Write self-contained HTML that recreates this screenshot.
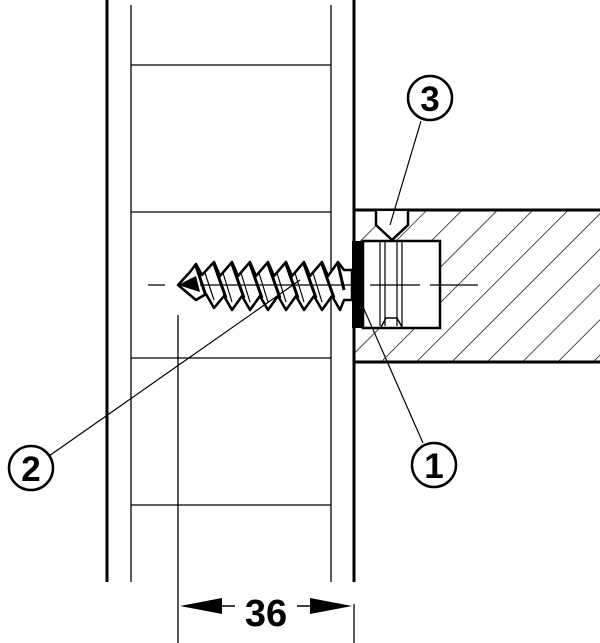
<!DOCTYPE html>
<html><head><style>body{margin:0;background:#fff}svg{display:block}</style></head><body>
<svg width="600" height="643" viewBox="0 0 600 643" xmlns="http://www.w3.org/2000/svg" font-family="Liberation Sans, sans-serif">
<defs>
<pattern id="h" width="25" height="25" patternUnits="userSpaceOnUse" patternTransform="rotate(45)">
<line x1="0" y1="0" x2="0" y2="25" stroke="#000" stroke-width="1.4"/></pattern>
</defs>
<g stroke="#000" fill="none">
<line x1="107" y1="0" x2="107" y2="582" stroke-width="3"/>
<line x1="131" y1="5" x2="131" y2="582" stroke-width="1.3"/>
<line x1="331" y1="5" x2="331" y2="582" stroke-width="1.3"/>
<line x1="354" y1="0" x2="354" y2="582" stroke-width="3"/>
<g stroke-width="1.3">
<line x1="131" y1="65" x2="331" y2="65"/>
<line x1="131" y1="212" x2="331" y2="212"/>
<line x1="131" y1="358" x2="331" y2="358"/>
<line x1="131" y1="505" x2="331" y2="505"/>
</g>
<rect x="354" y="210" width="246" height="152" fill="url(#h)" stroke="none"/>
<line x1="354" y1="210" x2="600" y2="210" stroke-width="3"/>
<line x1="354" y1="362" x2="600" y2="362" stroke-width="3"/>
<rect x="363" y="241" width="77" height="87" fill="#fff" stroke-width="2.5"/>
<path d="M376 211 V225 L392 240 L408 225 V211" fill="#fff" stroke-width="2.5"/>
<line x1="380" y1="242" x2="380" y2="326" stroke-width="1.2"/>
<line x1="385" y1="242" x2="385" y2="326" stroke-width="1.2"/>
<line x1="397" y1="242" x2="397" y2="326" stroke-width="1.2"/>
<line x1="402" y1="242" x2="402" y2="326" stroke-width="1.2"/>
<path d="M381 327 L386 318 H397 L402 327" stroke-width="1.5"/>
<rect x="352" y="241" width="10" height="87" fill="#000" stroke="none"/>
<path d="M148 285 H165 M370 285 H420 M430 285 H478" stroke-width="1.2"/>
<!-- screw body -->
<path d="M178 285 L190 272 L196 264 L202 275 L214 262 L220 276 L232 262 L238 276 L250 262 L256 276 L268 262 L274 276 L286 262 L292 276 L304 262 L310 276 L322 262 L328 276 L338 262 L344 270 L352 270 V300 L344 300 L340 310 L332 296 L322 310 L314 296 L304 310 L296 296 L286 310 L278 296 L268 310 L260 296 L250 310 L242 296 L232 310 L224 296 L214 308 L206 294 L196 300 Z" fill="#fff" stroke-width="2.5" stroke-linejoin="round"/>
<g stroke-width="3">
<path d="M196 266 L206 296 M214 264 L226 298 M232 264 L244 298 M250 264 L262 298 M268 264 L280 298 M286 264 L298 298 M304 264 L316 298 M322 264 L334 298 M338 264 L344 290"/>
</g>
<g stroke-width="1.2">
<path d="M205 273 L214 300 M223 273 L232 302 M241 273 L250 302 M259 273 L268 302 M277 273 L286 302 M295 273 L304 302 M313 273 L322 302"/>
<line x1="200" y1="285" x2="352" y2="285"/>
</g>
<path d="M178 285 L196 276 L200 292 Z" fill="#000" stroke="none"/>
<g stroke-width="1.2">
<line x1="421" y1="121" x2="390" y2="225"/>
<line x1="49" y1="456" x2="300" y2="280"/>
<line x1="423" y1="443" x2="360" y2="300"/>
</g>
<circle cx="430" cy="98" r="22" stroke-width="2.5"/>
<circle cx="31" cy="468" r="22" stroke-width="2.5"/>
<circle cx="434" cy="465" r="22" stroke-width="2.5"/>
<line x1="178" y1="315" x2="178" y2="643" stroke-width="1.3"/>
<line x1="354" y1="604" x2="354" y2="643" stroke-width="1.3"/>
<line x1="190" y1="606" x2="235" y2="606" stroke-width="1.5"/>
<line x1="297" y1="606" x2="340" y2="606" stroke-width="1.5"/>
<path d="M180 606 L222 598 L222 614 Z M352 606 L310 598 L310 614 Z" fill="#000" stroke="none"/>
</g>
<g font-weight="bold" text-anchor="middle" fill="#000">
<text x="430" y="111" font-size="35">3</text>
<text x="31" y="481" font-size="35">2</text>
<text x="434" y="478" font-size="35">1</text>
<text x="266" y="626" font-size="38">36</text>
</g>
</svg>
</body></html>
